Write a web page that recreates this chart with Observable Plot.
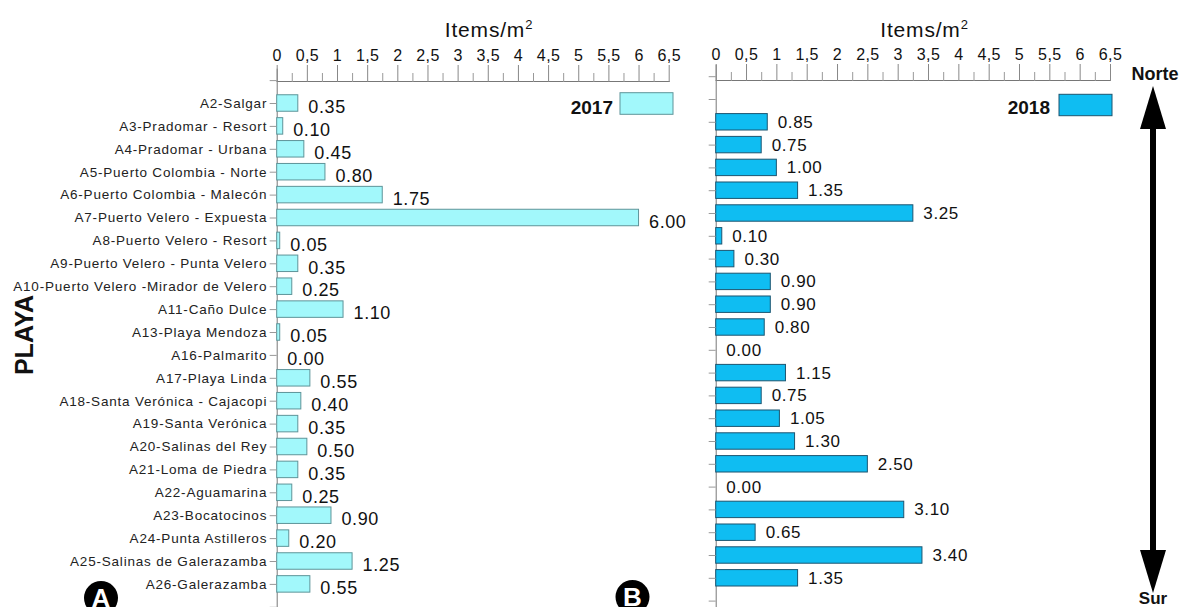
<!DOCTYPE html>
<html><head><meta charset="utf-8">
<script src="https://cdn.jsdelivr.net/npm/d3@7"></script>
<script src="https://cdn.jsdelivr.net/npm/@observablehq/plot@0.6"></script>
<style>
html,body{margin:0;padding:0;background:#fff;}
#wrap{position:relative;width:1185px;height:607px;overflow:hidden;font-family:"Liberation Sans",Arial,sans-serif;}
#wrap svg{position:absolute;top:0;overflow:visible;max-width:none;background:transparent;}
#wrap g[aria-label="y-axis tick label"] text{letter-spacing:0.8px;}
#wrap g[aria-label="x-axis tick label"] text{letter-spacing:0.4px;}
#wrap g[aria-label="text"] text{letter-spacing:0.6px;}
</style></head><body><div id="wrap"></div>
<script>
// ---- data ----
const sites = [
  "A2-Salgar","A3-Pradomar - Resort","A4-Pradomar - Urbana","A5-Puerto Colombia - Norte",
  "A6-Puerto Colombia - Malecón","A7-Puerto Velero - Expuesta","A8-Puerto Velero - Resort",
  "A9-Puerto Velero - Punta Velero","A10-Puerto Velero -Mirador de Velero","A11-Caño Dulce",
  "A13-Playa Mendoza","A16-Palmarito","A17-Playa Linda","A18-Santa Verónica - Cajacopi",
  "A19-Santa Verónica","A20-Salinas del Rey","A21-Loma de Piedra","A22-Aguamarina",
  "A23-Bocatocinos","A24-Punta Astilleros","A25-Salinas de Galerazamba","A26-Galerazamba"
];
const values2017 = [0.35,0.10,0.45,0.80,1.75,6.00,0.05,0.35,0.25,1.10,0.05,0.00,0.55,0.40,0.35,0.50,0.35,0.25,0.90,0.20,1.25,0.55];
const values2018 = [null,0.85,0.75,1.00,1.35,3.25,0.10,0.30,0.90,0.90,0.80,0.00,1.15,0.75,1.05,1.30,2.50,0.00,3.10,0.65,3.40,1.35];
const majorTicks = [0,0.5,1,1.5,2,2.5,3,3.5,4,4.5,5,5.5,6,6.5];
const minorTicks = [0.25,0.75,1.25,1.75,2.25,2.75,3.25,3.75,4.25,4.75,5.25,5.75,6.25];
const years = ["2017","2018"];
const axisTitle = "Items/m";
const yTitle = "PLAYA";
const panelLetters = ["A","B"];
const directions = ["Norte","Sur"];

const color2017 = "#a2f8fb", stroke2017 = "#5e9499";
const color2018 = "#0fbdf2", stroke2018 = "#1c5570";
const FONT = '"Liberation Sans", Arial, sans-serif';

const slots = ["_top", ...sites, "_bot"];
const fmtTick = d => String(d).replace(".", ",");

// top x axis (separate strip so the axis line sits at a fixed pixel row)
function axisStrip({width, marginLeft, marginRight, axisY}) {
  return Plot.plot({
    width, height: axisY + 1,
    marginLeft, marginRight, marginTop: axisY, marginBottom: 1,
    style: {fontFamily: FONT, background: "transparent", color: "#111"},
    x: {domain: [0, 6.5], label: null},
    marks: [
      Plot.frame({anchor: "top", stroke: "#777"}),
      Plot.axisX({anchor: "top", ticks: majorTicks, tickSize: 17, tickPadding: 4, tickFormat: fmtTick, fontSize: 16, stroke: "#888", label: null}),
      Plot.axisX({anchor: "top", ticks: minorTicks, tickSize: 9, tickFormat: () => "", stroke: "#999", label: null})
    ]
  });
}

// bars: the band range is given by the margins (slot centers spaced evenly)
function barsPanel({data, width, marginLeft, marginRight, bandTop, bandBottom, fill, stroke, showLabels, labelDy, labelSize}) {
  return Plot.plot({
    width, height: Math.ceil(bandBottom) + 1,
    marginLeft, marginRight, marginTop: bandTop, marginBottom: Math.ceil(bandBottom) + 1 - bandBottom,
    style: {fontFamily: FONT, background: "transparent", color: "#111"},
    x: {domain: [0, 6.5], label: null, axis: null},
    y: {type: "band", domain: slots, paddingInner: 0.28, paddingOuter: 0.14, round: false, label: null},
    marks: [
      Plot.ruleX([0], {stroke: "#777", strokeWidth: 1}),
      Plot.barX(data, {x: "v", y: "site", fill, stroke, strokeWidth: 1}),
      Plot.text(data, {x: "v", y: "site", text: d => d.v.toFixed(2), textAnchor: "start", dx: 10, dy: labelDy, fontSize: labelSize, fill: "#111"}),
      Plot.axisY({anchor: "left", tickSize: 7, tickPadding: 3, stroke: "#999", fontSize: 13.5, fill: "#222",
        tickFormat: showLabels ? (d => d.startsWith("_") ? "" : d) : (() => ""), label: null})
    ]
  });
}

const d2017 = sites.map((s, i) => ({site: s, v: values2017[i]})).filter(d => d.v != null);
const d2018 = sites.map((s, i) => ({site: s, v: values2018[i]})).filter(d => d.v != null);

const wrap = document.getElementById("wrap");
function place(el, x) { el.style.left = x + "px"; wrap.appendChild(el); }

// left panel: 0 at x=276.7, 6.5 at x=668.7; rows 22.9 px apart, A2 at y=103
place(barsPanel({data: d2017, width: 700, marginLeft: 276.7, marginRight: 31.3,
  bandTop: 68.65, bandBottom: 68.65 + 24 * 22.9, fill: color2017, stroke: stroke2017,
  showLabels: true, labelDy: 4, labelSize: 18}), 0);
place(axisStrip({width: 700, marginLeft: 276.7, marginRight: 31.3, axisY: 81}), 0);

// right panel: 0 at x=715.7, 6.5 at x=1110; rows 22.8 px apart, A2 slot at y=99
place(barsPanel({data: d2018, width: 485, marginLeft: 15.7, marginRight: 75,
  bandTop: 64.8, bandBottom: 64.8 + 24 * 22.8, fill: color2018, stroke: stroke2018,
  showLabels: false, labelDy: 0, labelSize: 17}), 700);
place(axisStrip({width: 485, marginLeft: 15.7, marginRight: 75, axisY: 80}), 700);

// ---- decorations (titles, legends, arrow, panel letters) ----
const svg = d3.create("svg").attr("width", 1185).attr("height", 607)
  .style("left", "0px").style("font-family", FONT);

[[489, 37], [924.5, 37]].forEach(([cx, by]) => {
  const t = svg.append("text").attr("x", cx).attr("y", by).attr("text-anchor", "middle")
    .attr("font-size", 21).attr("letter-spacing", "0.8px").attr("fill", "#111");
  t.append("tspan").text(axisTitle);
  t.append("tspan").attr("font-size", 13).attr("dy", -8).text("2");
});

// legends
[[613, 113.5, 620, 92.7, 53, 21.6, color2017, stroke2017, years[0]],
 [1050, 113.5, 1059, 94.3, 53, 21.4, color2018, stroke2018, years[1]]].forEach(([tx, ty, rx, ry, rw, rh, f, s, lab]) => {
  svg.append("text").attr("x", tx).attr("y", ty).attr("text-anchor", "end")
    .attr("font-size", 19).attr("font-weight", "bold").attr("fill", "#111").text(lab);
  svg.append("rect").attr("x", rx).attr("y", ry).attr("width", rw).attr("height", rh)
    .attr("fill", f).attr("stroke", s).attr("stroke-width", 1);
});

// PLAYA
svg.append("text").attr("transform", "translate(24,335) rotate(-90)").attr("text-anchor", "middle")
  .attr("dominant-baseline", "central").attr("font-size", 25).attr("font-weight", "bold").attr("fill", "#111").text(yTitle);

// Arrow
const ax = 1153;
svg.append("line").attr("x1", ax).attr("x2", ax).attr("y1", 120).attr("y2", 560)
  .attr("stroke", "#000").attr("stroke-width", 6);
svg.append("path").attr("d", `M${ax},86 L${ax-13},129 L${ax+13},129 Z`).attr("fill", "#000");
svg.append("path").attr("d", `M${ax},593 L${ax-13},550 L${ax+13},550 Z`).attr("fill", "#000");
svg.append("text").attr("x", 1155).attr("y", 80).attr("text-anchor", "middle")
  .attr("font-size", 18).attr("font-weight", "bold").attr("fill", "#111").text(directions[0]);
svg.append("text").attr("x", 1153).attr("y", 604).attr("text-anchor", "middle")
  .attr("font-size", 17).attr("font-weight", "bold").attr("fill", "#111").text(directions[1]);

// panel letters
[[101, 598, panelLetters[0]], [632.5, 597, panelLetters[1]]].forEach(([cx, cy, l]) => {
  svg.append("circle").attr("cx", cx).attr("cy", cy).attr("r", 17).attr("fill", "#000");
  svg.append("text").attr("x", cx).attr("y", cy + 9).attr("text-anchor", "middle")
    .attr("font-size", 26).attr("font-weight", "bold").attr("fill", "#fff").text(l);
});

wrap.appendChild(svg.node());
</script>
</body></html>
